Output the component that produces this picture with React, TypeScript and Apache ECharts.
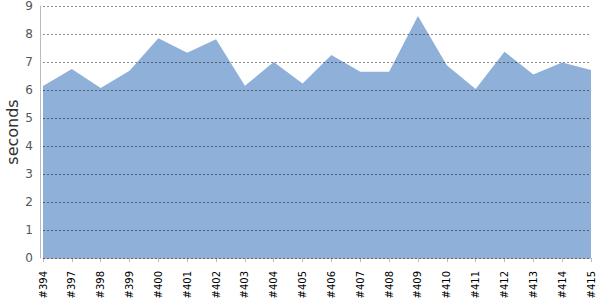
import React, { useEffect, useRef } from "react";
import * as echarts from "echarts";

const categories = ["#394","#397","#398","#399","#400","#401","#402","#403","#404","#405","#406","#407","#408","#409","#410","#411","#412","#413","#414","#415"];
const durations = [6.14, 6.75, 6.07, 6.69, 7.85, 7.33, 7.81, 6.15, 7.0, 6.23, 7.25, 6.65, 6.65, 8.64, 6.88, 6.04, 7.37, 6.55, 6.98, 6.71];
const yTicks = [0, 1, 2, 3, 4, 5, 6, 7, 8, 9];

export default function App() {
  const ref = useRef<HTMLDivElement>(null);
  useEffect(() => {
    if (!ref.current) return;
    const chart = echarts.init(ref.current, undefined, { renderer: "svg" });
    chart.setOption({
      animation: false,
      grid: { left: 43, right: 9, top: 6, bottom: 42, containLabel: false, outerBoundsMode: "none" },
      xAxis: {
        type: "category",
        data: categories,
        boundaryGap: false,
        offset: 5,
        axisLine: { lineStyle: { color: "#bbbbbb", width: 1 } },
        axisTick: { show: true, alignWithLabel: true, length: 4, lineStyle: { color: "#bbbbbb" } },
        axisLabel: {
          interval: 0,
          rotate: 90,
          color: "#000",
          fontFamily: "DejaVu Sans",
          fontSize: 10,
          margin: 8,
        },
        splitLine: { show: false },
      },
      yAxis: {
        type: "value",
        min: yTicks[0],
        max: yTicks[yTicks.length - 1],
        interval: 1,
        offset: 3,
        z: 5,
        name: "seconds",
        nameLocation: "middle",
        nameGap: 20,
        nameMoveOverlap: false,
        nameTextStyle: { fontFamily: "DejaVu Sans", fontSize: 16, color: "#333" },
        axisLine: { show: true, lineStyle: { color: "#bbbbbb", width: 1 } },
        axisTick: { show: false },
        axisLabel: { color: "#555", fontFamily: "DejaVu Sans", fontSize: 12, margin: 7 },
        splitLine: { show: true, lineStyle: { color: "rgba(0,0,0,0.45)", type: [2, 2], width: 1 } },
      },
      series: [
        {
          type: "line",
          data: durations,
          symbol: "none",
          lineStyle: { width: 0, color: "#8EB0D9" },
          itemStyle: { color: "#8EB0D9" },
          areaStyle: { color: "#8EB0D9", opacity: 1 },
          z: 2,
        },
      ],
    });
    return () => chart.dispose();
  }, []);
  return <div ref={ref} style={{ width: 600, height: 300, position: "absolute", left: 0, top: 0 }} />;
}
